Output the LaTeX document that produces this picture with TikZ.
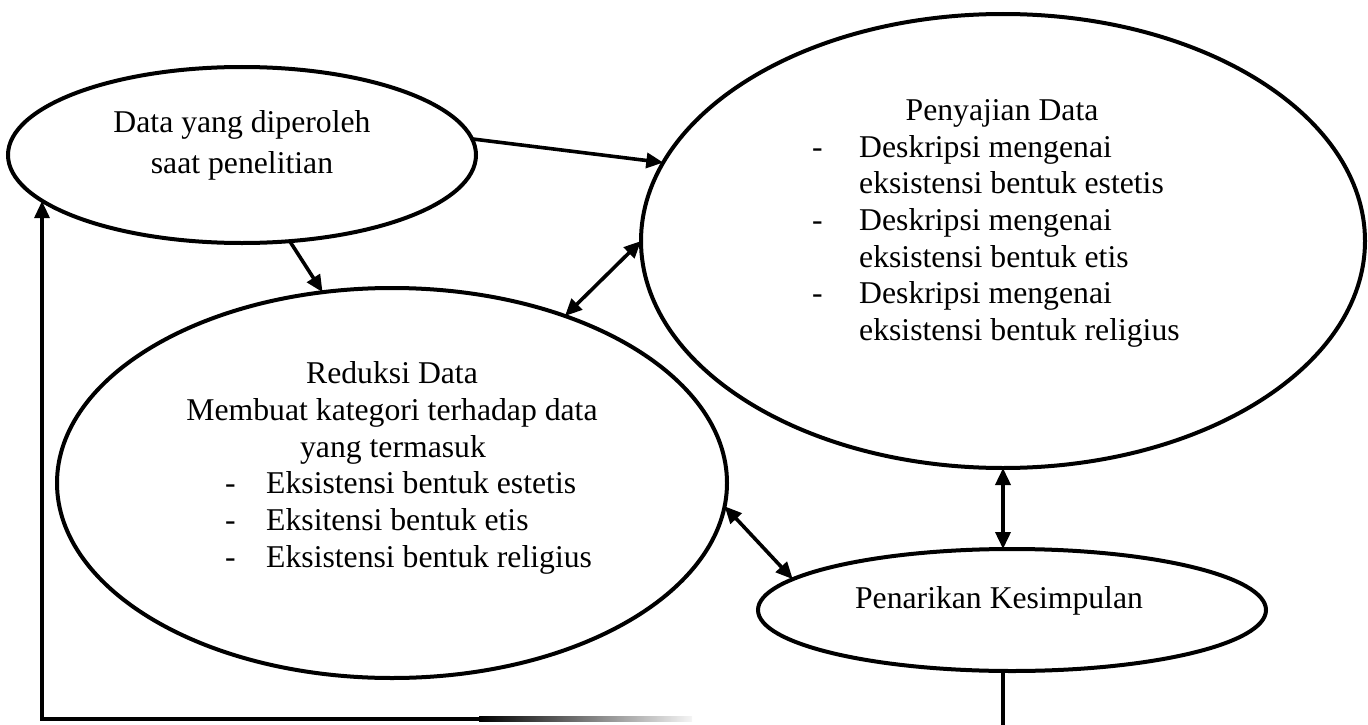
\documentclass[tikz,border=0pt]{standalone}
\usepackage{fontspec}
\setmainfont{Liberation Serif}
\usetikzlibrary{shapes.geometric,arrows.meta}
\begin{document}
\begin{tikzpicture}[x=1pt,y=-1pt,
  ell/.style={draw, ellipse, line width=4pt, inner sep=0pt, outer sep=0pt},
  txt/.style={inner sep=0pt, font=\fontsize{31.7}{36.7}\selectfont},
  conn/.style={line width=3.6pt, -{Triangle[length=17pt,width=15pt]}},
  dconn/.style={line width=3.6pt, {Triangle[length=17pt,width=15pt]}-{Triangle[length=17pt,width=15pt]}},
  fb/.style={line width=3.2pt}]
\useasboundingbox (0,0) rectangle (1368,725);

% ellipses
\node[ell, minimum width=468pt, minimum height=176pt] (e1) at (242,155) {};
\node[ell, minimum width=724pt, minimum height=454pt] (e2) at (1003,241) {};
\node[ell, minimum width=670pt, minimum height=390pt] (e3) at (392,483) {};
\node[ell, minimum width=508pt, minimum height=122pt] (e4) at (1012,610) {};

% texts of e1
\node[txt, anchor=base] (t1a) at (242,132) {Data yang diperoleh};
\node[txt, anchor=base] (t1b) at (242,173) {saat penelitian};

% texts of e2
\node[txt, anchor=base] (t2) at (1002,120) {Penyajian Data};
\node[txt, anchor=base west] (d2a) at (812,157) {-};
\node[txt, anchor=base west] (l2a) at (859,157) {Deskripsi mengenai};
\node[txt, anchor=base west] (l2b) at (859,193) {eksistensi bentuk estetis};
\node[txt, anchor=base west] (d2b) at (812,230) {-};
\node[txt, anchor=base west] (l2c) at (859,230) {Deskripsi mengenai};
\node[txt, anchor=base west] (l2d) at (859,267) {eksistensi bentuk etis};
\node[txt, anchor=base west] (d2c) at (812,303) {-};
\node[txt, anchor=base west] (l2e) at (859,303) {Deskripsi mengenai};
\node[txt, anchor=base west] (l2f) at (859,340) {eksistensi bentuk religius};

% texts of e3
\node[txt, anchor=base] (t3a) at (392,383) {Reduksi Data};
\node[txt, anchor=base] (t3b) at (392,420) {Membuat kategori terhadap data};
\node[txt, anchor=base] (t3c) at (393,457) {yang termasuk};
\node[txt, anchor=base west] (d3a) at (225,493) {-};
\node[txt, anchor=base west] (l3a) at (266,493) {Eksistensi bentuk estetis};
\node[txt, anchor=base west] (d3b) at (225,530) {-};
\node[txt, anchor=base west] (l3b) at (266,530) {Eksitensi bentuk etis};
\node[txt, anchor=base west] (d3c) at (225,567) {-};
\node[txt, anchor=base west] (l3c) at (266,567) {Eksistensi bentuk religius};

% text of e4
\node[txt, anchor=base] (t4) at (999,608) {Penarikan Kesimpulan};

% connectors
\draw[conn] (e1.4.4) -- (e2.167.6);
\draw[conn] (e1.299.9) -- (e3.110.3);
\draw[dconn] (e3.44.8) -- (e2.180.5);
\draw[dconn] (e2.south) -- (e2.south |- e4.north);
\draw[dconn] (e3.356.8) -- (e4.172);

% feedback loop
\coordinate (fbr) at (1003,725);
\coordinate (fbl) at (42,719);
\coordinate (fbm) at (480,719);
\draw[fb] (fbr |- e4.south) -- (fbr);
\draw[line width=4.4pt] ([xshift=-1.6pt]fbl) -- (fbm);
\shade[left color=black, right color=black!4] (479,716.8) rectangle (692,721.2);
\draw[fb, -{Triangle[length=17pt,width=15pt]}] ([yshift=2pt]fbl) -- (fbl |- e1.193);
\end{tikzpicture}
\end{document}
